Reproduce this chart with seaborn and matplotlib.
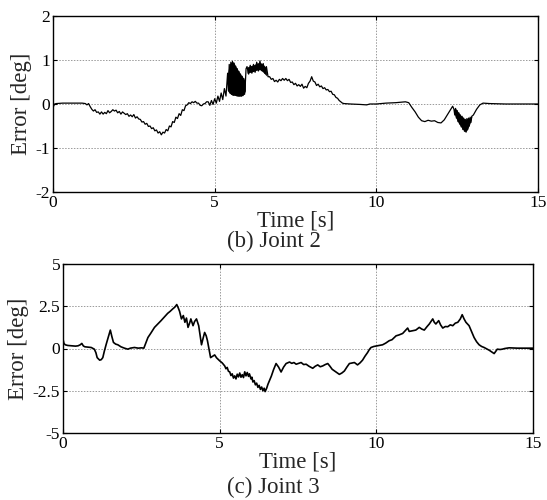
import matplotlib
matplotlib.use("Agg")
import matplotlib.pyplot as plt
import seaborn as sns

# ---- Joint 2 error (deg) ----
j2_t_a = [0.00, 0.05, 0.10, 0.30, 0.60, 0.90, 1.00, 1.05, 1.10, 1.15,
          1.20, 1.25, 1.30, 1.35, 1.40, 1.45, 1.50, 1.55, 1.60, 1.65, 1.70, 1.75, 1.80, 1.85,
          1.90, 1.95, 2.00, 2.05, 2.10, 2.15, 2.20, 2.25, 2.30, 2.35, 2.40, 2.45, 2.50, 2.55,
          2.60, 2.65, 2.70, 2.75, 2.80, 2.85, 2.90, 2.95, 3.00, 3.05, 3.10, 3.15, 3.20, 3.25,
          3.30, 3.35, 3.40, 3.45, 3.50, 3.55, 3.60, 3.65, 3.70, 3.75, 3.80, 3.85, 3.90, 3.95,
          4.00, 4.05, 4.10, 4.15, 4.20, 4.25, 4.30, 4.35, 4.40, 4.45, 4.50, 4.55, 4.60, 4.65,
          4.70, 4.75]
j2_e_a = [-0.08, 0.00, 0.01, 0.02, 0.02, 0.02, 0.01, -0.02, 0.01, -0.06,
          -0.12, -0.16, -0.13, -0.19, -0.18, -0.23, -0.18, -0.23, -0.19, -0.22, -0.15, -0.20, -0.17, -0.13,
          -0.16, -0.14, -0.20, -0.17, -0.23, -0.18, -0.21, -0.24, -0.22, -0.28, -0.25, -0.29, -0.24, -0.32,
          -0.29, -0.34, -0.35, -0.41, -0.40, -0.46, -0.44, -0.51, -0.50, -0.56, -0.54, -0.61, -0.59, -0.66,
          -0.63, -0.70, -0.64, -0.66, -0.58, -0.61, -0.50, -0.52, -0.40, -0.42, -0.30, -0.33, -0.22, -0.26,
          -0.13, -0.15, -0.04, -0.02, 0.03, 0.01, 0.05, 0.03, 0.06, 0.02, 0.02, -0.03, -0.04, 0.00,
          0.01, 0.05]

# noisy rise and the oscillating band around 5.5 s
j2_t_b = [4.80, 4.85, 4.90, 4.95, 5.00, 5.05, 5.10, 5.15, 5.20, 5.25, 5.30, 5.35,
          5.400, 5.425, 5.450, 5.475, 5.500, 5.525, 5.550, 5.575, 5.600, 5.625, 5.650, 5.675,
          5.700, 5.725, 5.750, 5.775, 5.800, 5.825, 5.850, 5.875, 5.900, 5.925, 5.950, 5.970,
          6.00, 6.05, 6.10, 6.15, 6.20, 6.25, 6.30, 6.35, 6.40, 6.45, 6.50, 6.55, 6.60, 6.65]
j2_e_b = [0.05, -0.03, 0.08, -0.01, 0.12, 0.02, 0.18, 0.06, 0.25, 0.10, 0.35, 0.18,
          0.70, 0.30, 0.90, 0.25, 0.95, 0.22, 0.97, 0.20, 0.93, 0.20, 0.86, 0.19,
          0.80, 0.18, 0.74, 0.18, 0.68, 0.18, 0.63, 0.19, 0.58, 0.22, 0.50, 0.80,
          0.85, 0.68, 0.88, 0.70, 0.90, 0.72, 0.95, 0.75, 0.98, 0.76, 0.92, 0.70, 0.85, 0.62]

j2_t_c = [6.70, 6.75, 6.80, 6.85, 6.90, 6.95, 7.00, 7.05, 7.10, 7.15, 7.20, 7.25, 7.30, 7.35,
          7.40, 7.45, 7.50, 7.55, 7.60, 7.65, 7.70, 7.75, 7.80, 7.85, 7.90, 7.95, 8.00, 8.05,
          8.10, 8.15, 8.20, 8.25, 8.30, 8.35, 8.40, 8.45, 8.50, 8.55, 8.60, 8.65, 8.70, 8.75,
          8.80, 8.85, 8.90, 8.95, 9.00, 9.20, 9.50, 9.70, 9.80,
          10.00, 10.30, 10.60, 10.90, 11.00, 11.10, 11.20, 11.30, 11.40, 11.50, 11.60, 11.70,
          11.80, 11.90, 12.00, 12.10, 12.20, 12.30, 12.36]
j2_e_c = [0.62, 0.56, 0.58, 0.51, 0.54, 0.50, 0.56, 0.53, 0.58, 0.54, 0.58, 0.53, 0.56, 0.49,
          0.50, 0.44, 0.47, 0.41, 0.44, 0.40, 0.45, 0.36, 0.40, 0.37, 0.47, 0.52, 0.62, 0.52,
          0.50, 0.42, 0.45, 0.39, 0.41, 0.35, 0.37, 0.32, 0.33, 0.28, 0.29, 0.22, 0.21, 0.15,
          0.13, 0.08, 0.05, 0.02, 0.01, 0.00, -0.01, -0.02, 0.00,
          0.00, 0.02, 0.03, 0.05, 0.03, -0.08, -0.18, -0.30, -0.38, -0.40, -0.37, -0.39,
          -0.38, -0.42, -0.43, -0.36, -0.24, -0.12, -0.05]

# second oscillating dip around 12.7 s
j2_t_d = [12.400, 12.425, 12.450, 12.475, 12.500, 12.525, 12.550, 12.575, 12.600, 12.625,
          12.650, 12.675, 12.700, 12.725, 12.750, 12.775, 12.800, 12.825, 12.850, 12.875,
          12.900, 12.925, 12.950, 13.00, 13.10, 13.20, 13.30, 13.50, 14.00, 14.50, 15.00]
j2_e_d = [-0.12, -0.25, -0.10, -0.32, -0.15, -0.40, -0.20, -0.45, -0.25, -0.52,
          -0.28, -0.58, -0.32, -0.62, -0.35, -0.64, -0.33, -0.58, -0.32, -0.50,
          -0.30, -0.42, -0.28, -0.25, -0.12, -0.02, 0.02, 0.01, 0.00, 0.00, 0.00]

# envelopes of the solid oscillation bands
band1_t = [5.40, 5.45, 5.50, 5.55, 5.60, 5.65, 5.70, 5.75, 5.80, 5.85, 5.90, 5.95]
band1_hi = [0.70, 0.90, 0.95, 0.97, 0.93, 0.86, 0.80, 0.74, 0.68, 0.63, 0.58, 0.50]
band1_lo = [0.30, 0.25, 0.22, 0.20, 0.20, 0.19, 0.18, 0.18, 0.18, 0.19, 0.22, 0.30]
band2_t = [12.40, 12.45, 12.50, 12.55, 12.60, 12.65, 12.70, 12.75, 12.80, 12.85, 12.90, 12.95]
band2_hi = [-0.10, -0.10, -0.15, -0.20, -0.25, -0.28, -0.32, -0.35, -0.33, -0.32, -0.30, -0.28]
band2_lo = [-0.20, -0.30, -0.38, -0.45, -0.50, -0.56, -0.60, -0.63, -0.60, -0.52, -0.43, -0.30]
band3_t = [6.00, 6.10, 6.20, 6.30, 6.40, 6.50, 6.60]
band3_hi = [0.84, 0.87, 0.89, 0.93, 0.95, 0.90, 0.82]
band3_lo = [0.70, 0.72, 0.74, 0.77, 0.78, 0.72, 0.64]

# ---- Joint 3 error (deg) ----
j3_t_a = [0.00, 0.03, 0.07, 0.15, 0.27, 0.40, 0.48, 0.55, 0.60, 0.65, 0.70, 0.80, 0.90, 1.00,
          1.05, 1.09, 1.17, 1.22, 1.27, 1.32, 1.38, 1.45, 1.51, 1.56, 1.61, 1.68, 1.75, 1.85,
          1.96, 2.07, 2.15, 2.28, 2.40, 2.50, 2.58, 2.65, 2.71, 2.80, 2.92, 3.00, 3.13, 3.25,
          3.34, 3.42, 3.50, 3.57, 3.63, 3.67, 3.72, 3.78, 3.84, 3.89, 3.94, 3.99, 4.04, 4.08,
          4.15, 4.20, 4.26, 4.33, 4.38, 4.42, 4.47, 4.52, 4.57, 4.61, 4.66, 4.71, 4.78, 4.84, 4.90]
j3_e_a = [0.55, 0.30, 0.22, 0.18, 0.16, 0.14, 0.16, 0.22, 0.30, 0.15, 0.10, 0.08, 0.06, -0.04,
          -0.25, -0.54, -0.69, -0.66, -0.54, -0.15, 0.26, 0.70, 1.09, 0.70, 0.36, 0.26, 0.22, 0.10,
          0.02, -0.04, 0.02, 0.06, 0.02, 0.04, 0.02, 0.35, 0.65, 0.90, 1.25, 1.40, 1.65, 1.90,
          2.08, 2.20, 2.34, 2.45, 2.60, 2.44, 2.20, 1.75, 1.95, 1.55, 1.80, 1.25, 1.50, 1.75,
          1.35, 1.60, 1.75, 1.35, 0.70, 0.22, 0.60, 0.95, 0.75, 0.46, -0.05, -0.54, -0.45, -0.38, -0.55]

j3_t_b = [5.00, 5.08, 5.16, 5.20, 5.24, 5.28, 5.32, 5.36, 5.40, 5.44, 5.48, 5.52, 5.56, 5.60,
          5.64, 5.68, 5.72, 5.76, 5.80, 5.84, 5.88, 5.92, 5.95, 6.00, 6.03, 6.06, 6.10, 6.14,
          6.18, 6.22, 6.26, 6.30, 6.34, 6.38, 6.42, 6.45, 6.50, 6.54, 6.60, 6.65, 6.72, 6.80,
          6.88, 6.96, 7.04, 7.12, 7.23, 7.30, 7.37, 7.44, 7.52, 7.60, 7.68, 7.76, 7.85, 7.97,
          8.05, 8.13, 8.21, 8.29, 8.37, 8.45, 8.52, 8.59, 8.68, 8.75, 8.82, 8.90, 8.98, 9.06,
          9.14, 9.22, 9.30, 9.40, 9.48, 9.56, 9.64, 9.72, 9.78, 9.83, 9.92]
j3_e_b = [-0.73, -0.85, -1.03, -1.20, -1.12, -1.35, -1.38, -1.60, -1.50, -1.75, -1.62, -1.80, -1.52, -1.68,
          -1.45, -1.70, -1.55, -1.72, -1.38, -1.62, -1.42, -1.65, -1.50, -1.80, -1.70, -1.98, -1.90, -2.15,
          -2.05, -2.30, -2.18, -2.42, -2.28, -2.50, -2.35, -2.55, -2.35, -2.12, -1.85, -1.63, -1.25, -0.89,
          -1.10, -1.39, -1.10, -0.89, -0.80, -0.88, -0.83, -0.93, -0.88, -0.83, -0.95, -0.93, -1.05, -1.17,
          -1.05, -0.97, -1.08, -1.03, -0.95, -0.89, -1.05, -1.23, -1.35, -1.45, -1.53, -1.45, -1.33, -1.10,
          -0.89, -0.86, -0.83, -0.97, -0.85, -0.69, -0.45, -0.24, -0.05, 0.06, 0.12]

j3_t_c = [10.04, 10.12, 10.20, 10.30, 10.41, 10.50, 10.63, 10.72, 10.84, 10.92, 11.00, 11.05,
          11.15, 11.26, 11.37, 11.45, 11.53, 11.62, 11.69, 11.80, 11.85, 11.90, 11.99, 12.05,
          12.12, 12.20, 12.28, 12.36, 12.44, 12.52, 12.60, 12.68, 12.74, 12.80, 12.86, 12.96,
          13.04, 13.12, 13.20, 13.28, 13.36, 13.44, 13.52, 13.60, 13.68, 13.76, 13.86, 13.95,
          14.02, 14.10, 14.24, 14.50, 14.80, 15.00]
j3_e_c = [0.16, 0.18, 0.22, 0.32, 0.46, 0.52, 0.75, 0.80, 0.89, 1.05, 1.21, 1.01,
          1.05, 1.09, 1.25, 1.15, 1.09, 1.30, 1.45, 1.75, 1.55, 1.45, 1.65, 1.40,
          1.21, 1.30, 1.29, 1.40, 1.35, 1.50, 1.55, 1.75, 2.00, 1.75, 1.55, 1.35,
          1.00, 0.65, 0.40, 0.22, 0.12, 0.06, -0.02, -0.10, -0.20, -0.30, -0.04, -0.06,
          -0.04, 0.00, 0.04, 0.02, 0.02, 0.02]

j2_t = j2_t_a + j2_t_b + j2_t_c + j2_t_d
j2_e = j2_e_a + j2_e_b + j2_e_c + j2_e_d
j3_t = j3_t_a + j3_t_b + j3_t_c
j3_e = j3_e_a + j3_e_b + j3_e_c

j2_yticks = [-2, -1, 0, 1, 2]
j2_ylabels = ["-2", "-1", "0", "1", "2"]
j3_yticks = [-5, -2.5, 0, 2.5, 5]
j3_ylabels = ["-5", "-2.5", "0", "2.5", "5"]
xticks = [0, 5, 10, 15]

sns.set_style("white")
plt.rcParams['font.family'] = ['Liberation Serif', 'DejaVu Serif']
plt.rcParams['axes.unicode_minus'] = False

fig = plt.figure(figsize=(5.47, 5.0), dpi=100)
ax1 = fig.add_axes([0.0969, 0.616, 0.8867, 0.352])
ax2 = fig.add_axes([0.1152, 0.134, 0.8592, 0.338])


def style_axis(ax, yticks, ylabels, ylim):
    ax.set_xlim(0, 15)
    ax.set_ylim(*ylim)
    ax.set_xticks(xticks)
    ax.set_xticklabels([str(v) for v in xticks])
    ax.set_yticks(yticks)
    ax.set_yticklabels(ylabels)
    ax.grid(True, color="#9a9a9a", linestyle=(0, (1.5, 1.5)), linewidth=0.7)
    ax.tick_params(direction="in", length=3, width=0.8, labelsize=12.5, pad=2,
                   top=True, right=True, bottom=True, left=True, colors="black")
    for s in ax.spines.values():
        s.set_color("black")
        s.set_linewidth(1.0)
    ax.set_xlabel("Time [s]", fontsize=16.5, labelpad=0)
    ax.set_ylabel("Error [deg]", fontsize=16.5, labelpad=3)


sns.lineplot(x=j2_t, y=j2_e, ax=ax1, color="black", linewidth=0.9, estimator=None, sort=False)
for bt, blo, bhi in [(band1_t, band1_lo, band1_hi), (band2_t, band2_lo, band2_hi),
                     (band3_t, band3_lo, band3_hi)]:
    ax1.fill_between(bt, blo, bhi, color="black", linewidth=0)
style_axis(ax1, j2_yticks, j2_ylabels, (-2, 2))

sns.lineplot(x=j3_t, y=j3_e, ax=ax2, color="black", linewidth=1.2, estimator=None, sort=False)
style_axis(ax2, j3_yticks, j3_ylabels, (-5, 5))

fig.text(0.5, 0.518, "(b) Joint 2", ha="center", va="center", fontsize=16.5)
fig.text(0.5, 0.026, "(c) Joint 3", ha="center", va="center", fontsize=16.5)

fig.savefig("out.png", dpi=100)
